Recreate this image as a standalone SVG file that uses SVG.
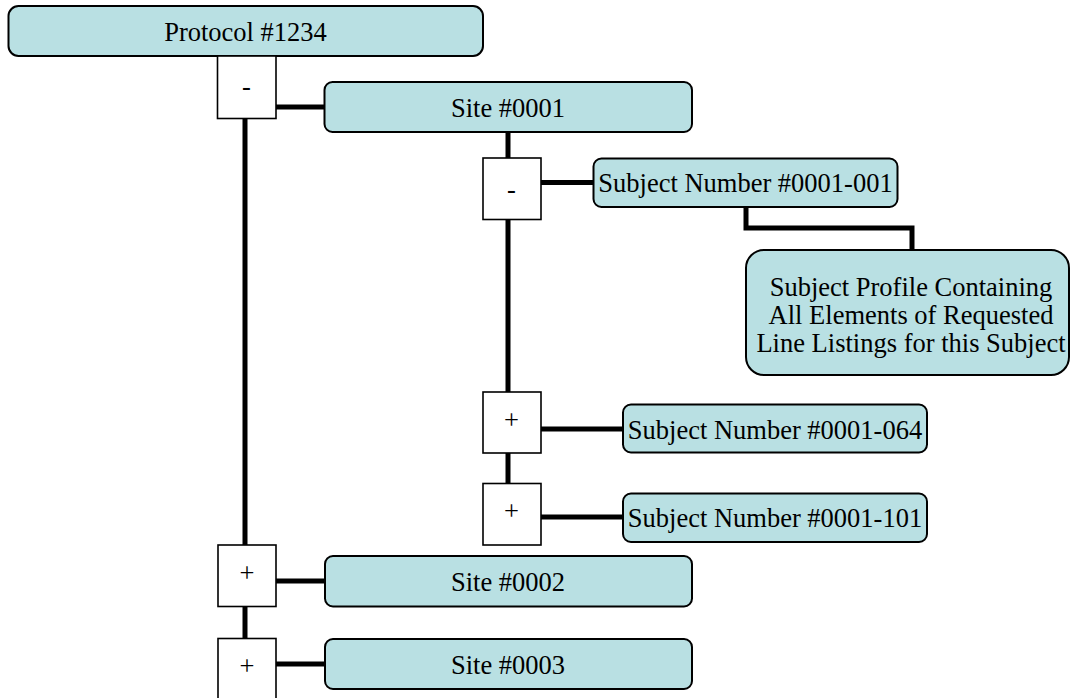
<svg xmlns="http://www.w3.org/2000/svg" width="1071" height="698" viewBox="0 0 1071 698">
  <style>
    .node { fill: #b9e0e3; stroke: #000; stroke-width: 2; }
    .tog { fill: #fff; stroke: #000; stroke-width: 1.6; }
    .lbl { font-family: "Liberation Serif", "Times New Roman", serif; font-size: 26.5px; fill: #000; text-anchor: middle; }
    .conn { stroke: #000; stroke-width: 5; fill: none; stroke-linejoin: miter; }
  </style>
  <rect x="0" y="0" width="1071" height="698" fill="#fff"/>

  <g id="connectors">
    <line class="conn" x1="245" y1="118" x2="245" y2="545"/>
    <line class="conn" x1="245" y1="606" x2="245" y2="639"/>
    <line class="conn" x1="276" y1="107" x2="325" y2="107"/>
    <line class="conn" x1="508" y1="132" x2="508" y2="158"/>
    <line class="conn" x1="508" y1="219" x2="508" y2="392"/>
    <line class="conn" x1="508" y1="452" x2="508" y2="484"/>
    <line class="conn" x1="541" y1="182.5" x2="593" y2="182.5"/>
    <polyline class="conn" points="746,207 746,228 912,228 912,250"/>
    <line class="conn" x1="541" y1="429" x2="623" y2="429"/>
    <line class="conn" x1="541" y1="517" x2="623" y2="517"/>
    <line class="conn" x1="276" y1="581" x2="325" y2="581"/>
    <line class="conn" x1="276" y1="664" x2="325" y2="664"/>
  </g>

  <g id="protocol">
    <rect class="node" x="8.5" y="6" width="474.5" height="50" rx="10"/>
    <text class="lbl" x="245.5" y="41">Protocol #1234</text>
  </g>

  <g id="toggle-protocol">
    <rect class="tog" x="217.5" y="56" width="58.5" height="62.5"/>
    <text class="lbl" x="246.5" y="95">-</text>
  </g>

  <g id="site-0001">
    <rect class="node" x="324.5" y="82" width="367.5" height="50" rx="8"/>
    <text class="lbl" x="508" y="117">Site #0001</text>
  </g>

  <g id="toggle-site-0001">
    <rect class="tog" x="483" y="158" width="58" height="61.5"/>
    <text class="lbl" x="511.5" y="198">-</text>
  </g>

  <g id="subject-0001-001">
    <rect class="node" x="593.5" y="158.5" width="304" height="48.5" rx="8"/>
    <text class="lbl" x="745.5" y="192">Subject Number #0001-001</text>
  </g>

  <g id="subject-profile">
    <rect class="node" x="746" y="250" width="323" height="125" rx="18"/>
    <text class="lbl" x="911" y="296">Subject Profile Containing</text>
    <text class="lbl" x="911" y="324">All Elements of Requested</text>
    <text class="lbl" x="911" y="352">Line Listings for this Subject</text>
  </g>

  <g id="toggle-subject-0001-064">
    <rect class="tog" x="483" y="392" width="58" height="61"/>
    <text class="lbl" x="511.5" y="428.5">+</text>
  </g>

  <g id="subject-0001-064">
    <rect class="node" x="623" y="404.5" width="304" height="48" rx="8"/>
    <text class="lbl" x="775" y="438.5">Subject Number #0001-064</text>
  </g>

  <g id="toggle-subject-0001-101">
    <rect class="tog" x="483" y="483.5" width="58" height="61.5"/>
    <text class="lbl" x="511.5" y="520">+</text>
  </g>

  <g id="subject-0001-101">
    <rect class="node" x="623" y="493.5" width="304" height="48.5" rx="8"/>
    <text class="lbl" x="775" y="527">Subject Number #0001-101</text>
  </g>

  <g id="toggle-site-0002">
    <rect class="tog" x="218" y="545" width="58" height="61.5"/>
    <text class="lbl" x="247" y="582">+</text>
  </g>

  <g id="site-0002">
    <rect class="node" x="325" y="556" width="367" height="50.5" rx="8"/>
    <text class="lbl" x="508" y="591">Site #0002</text>
  </g>

  <g id="toggle-site-0003">
    <rect class="tog" x="218" y="638.5" width="58" height="62"/>
    <text class="lbl" x="247" y="675">+</text>
  </g>

  <g id="site-0003">
    <rect class="node" x="325" y="639" width="367" height="50" rx="8"/>
    <text class="lbl" x="508" y="674">Site #0003</text>
  </g>
</svg>
